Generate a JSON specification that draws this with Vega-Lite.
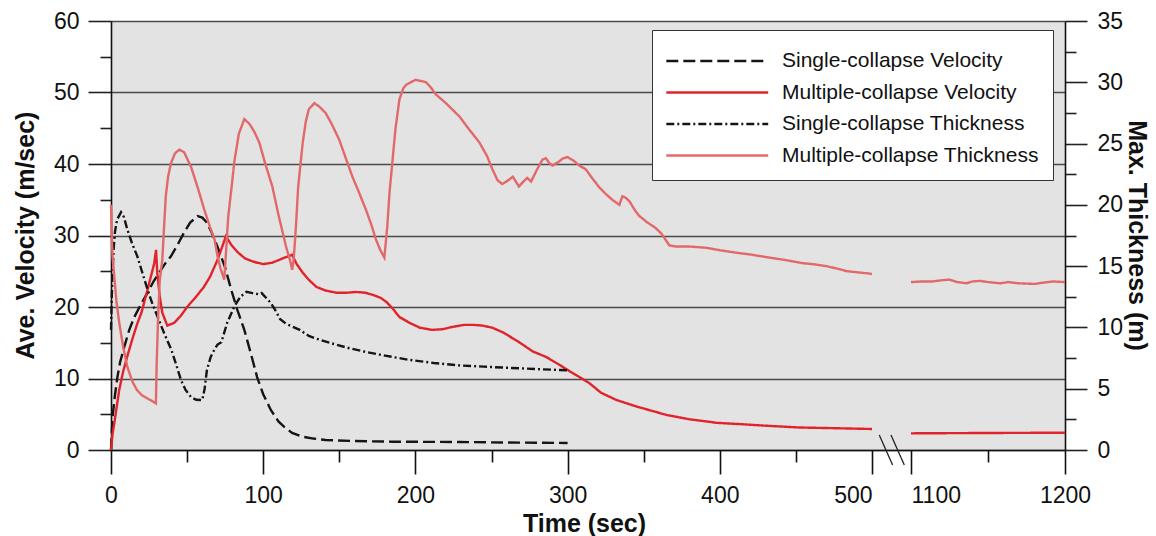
{
  "$schema": "https://vega.github.io/schema/vega-lite/v6.json",
  "width": 954,
  "height": 429,
  "autosize": {"type": "none"},
  "padding": {"left": 111, "top": 21, "right": 91, "bottom": 86},
  "background": "white",
  "config": {
    "view": {"fill": "#e3e3e3", "stroke": null},
    "font": "Liberation Sans"
  },
  "datasets": {
    "vel": [
      {"series": "Single-collapse Velocity", "seg": "a", "t": 0, "v": 0},
      {"series": "Single-collapse Velocity", "seg": "a", "t": 1, "v": 4.6},
      {"series": "Single-collapse Velocity", "seg": "a", "t": 2.5, "v": 7.5},
      {"series": "Single-collapse Velocity", "seg": "a", "t": 4.2, "v": 10.2},
      {"series": "Single-collapse Velocity", "seg": "a", "t": 6, "v": 12.3},
      {"series": "Single-collapse Velocity", "seg": "a", "t": 8.7, "v": 14.4},
      {"series": "Single-collapse Velocity", "seg": "a", "t": 12, "v": 16.8},
      {"series": "Single-collapse Velocity", "seg": "a", "t": 15.3, "v": 18.6},
      {"series": "Single-collapse Velocity", "seg": "a", "t": 20, "v": 20.5},
      {"series": "Single-collapse Velocity", "seg": "a", "t": 24, "v": 22},
      {"series": "Single-collapse Velocity", "seg": "a", "t": 28, "v": 23.6},
      {"series": "Single-collapse Velocity", "seg": "a", "t": 31.7, "v": 24.8},
      {"series": "Single-collapse Velocity", "seg": "a", "t": 36, "v": 26.2},
      {"series": "Single-collapse Velocity", "seg": "a", "t": 39.4, "v": 27.1},
      {"series": "Single-collapse Velocity", "seg": "a", "t": 44, "v": 28.8},
      {"series": "Single-collapse Velocity", "seg": "a", "t": 48, "v": 30.4},
      {"series": "Single-collapse Velocity", "seg": "a", "t": 52, "v": 31.8},
      {"series": "Single-collapse Velocity", "seg": "a", "t": 56.9, "v": 32.7},
      {"series": "Single-collapse Velocity", "seg": "a", "t": 60, "v": 32.5},
      {"series": "Single-collapse Velocity", "seg": "a", "t": 63, "v": 31.8},
      {"series": "Single-collapse Velocity", "seg": "a", "t": 66, "v": 30.5},
      {"series": "Single-collapse Velocity", "seg": "a", "t": 70, "v": 28.4},
      {"series": "Single-collapse Velocity", "seg": "a", "t": 75, "v": 25.5},
      {"series": "Single-collapse Velocity", "seg": "a", "t": 79, "v": 22.4},
      {"series": "Single-collapse Velocity", "seg": "a", "t": 83, "v": 19.6},
      {"series": "Single-collapse Velocity", "seg": "a", "t": 87.6, "v": 16.8},
      {"series": "Single-collapse Velocity", "seg": "a", "t": 92, "v": 13.4},
      {"series": "Single-collapse Velocity", "seg": "a", "t": 96, "v": 10.2},
      {"series": "Single-collapse Velocity", "seg": "a", "t": 100, "v": 7.8},
      {"series": "Single-collapse Velocity", "seg": "a", "t": 105, "v": 5.6},
      {"series": "Single-collapse Velocity", "seg": "a", "t": 110, "v": 4.0},
      {"series": "Single-collapse Velocity", "seg": "a", "t": 114, "v": 3.2},
      {"series": "Single-collapse Velocity", "seg": "a", "t": 119, "v": 2.4},
      {"series": "Single-collapse Velocity", "seg": "a", "t": 125, "v": 1.9},
      {"series": "Single-collapse Velocity", "seg": "a", "t": 133, "v": 1.6},
      {"series": "Single-collapse Velocity", "seg": "a", "t": 141, "v": 1.4},
      {"series": "Single-collapse Velocity", "seg": "a", "t": 160, "v": 1.25},
      {"series": "Single-collapse Velocity", "seg": "a", "t": 185, "v": 1.16},
      {"series": "Single-collapse Velocity", "seg": "a", "t": 229, "v": 1.12},
      {"series": "Single-collapse Velocity", "seg": "a", "t": 260, "v": 1.05},
      {"series": "Single-collapse Velocity", "seg": "a", "t": 300, "v": 0.98},
      {"series": "Multiple-collapse Velocity", "seg": "a", "t": 0, "v": 0},
      {"series": "Multiple-collapse Velocity", "seg": "a", "t": 1, "v": 2.2},
      {"series": "Multiple-collapse Velocity", "seg": "a", "t": 2.2, "v": 3.8},
      {"series": "Multiple-collapse Velocity", "seg": "a", "t": 5.4, "v": 8.4},
      {"series": "Multiple-collapse Velocity", "seg": "a", "t": 8, "v": 11},
      {"series": "Multiple-collapse Velocity", "seg": "a", "t": 10.7, "v": 13.1},
      {"series": "Multiple-collapse Velocity", "seg": "a", "t": 14, "v": 15.5},
      {"series": "Multiple-collapse Velocity", "seg": "a", "t": 17.3, "v": 17.7},
      {"series": "Multiple-collapse Velocity", "seg": "a", "t": 20, "v": 19.2},
      {"series": "Multiple-collapse Velocity", "seg": "a", "t": 24, "v": 22.4},
      {"series": "Multiple-collapse Velocity", "seg": "a", "t": 28.4, "v": 26.1},
      {"series": "Multiple-collapse Velocity", "seg": "a", "t": 29.6, "v": 28.0},
      {"series": "Multiple-collapse Velocity", "seg": "a", "t": 30.4, "v": 24.8},
      {"series": "Multiple-collapse Velocity", "seg": "a", "t": 32, "v": 21.5},
      {"series": "Multiple-collapse Velocity", "seg": "a", "t": 33.7, "v": 19.2},
      {"series": "Multiple-collapse Velocity", "seg": "a", "t": 37, "v": 17.4},
      {"series": "Multiple-collapse Velocity", "seg": "a", "t": 41.6, "v": 17.8},
      {"series": "Multiple-collapse Velocity", "seg": "a", "t": 46, "v": 18.8},
      {"series": "Multiple-collapse Velocity", "seg": "a", "t": 50, "v": 20},
      {"series": "Multiple-collapse Velocity", "seg": "a", "t": 55, "v": 21.2},
      {"series": "Multiple-collapse Velocity", "seg": "a", "t": 61, "v": 22.8},
      {"series": "Multiple-collapse Velocity", "seg": "a", "t": 65, "v": 24.2},
      {"series": "Multiple-collapse Velocity", "seg": "a", "t": 70, "v": 26.6},
      {"series": "Multiple-collapse Velocity", "seg": "a", "t": 73, "v": 28.4},
      {"series": "Multiple-collapse Velocity", "seg": "a", "t": 75.5, "v": 29.9},
      {"series": "Multiple-collapse Velocity", "seg": "a", "t": 79, "v": 28.7},
      {"series": "Multiple-collapse Velocity", "seg": "a", "t": 83, "v": 27.7},
      {"series": "Multiple-collapse Velocity", "seg": "a", "t": 88, "v": 26.8},
      {"series": "Multiple-collapse Velocity", "seg": "a", "t": 94, "v": 26.3},
      {"series": "Multiple-collapse Velocity", "seg": "a", "t": 100, "v": 26.0},
      {"series": "Multiple-collapse Velocity", "seg": "a", "t": 106, "v": 26.2},
      {"series": "Multiple-collapse Velocity", "seg": "a", "t": 110.6, "v": 26.6},
      {"series": "Multiple-collapse Velocity", "seg": "a", "t": 114, "v": 26.9},
      {"series": "Multiple-collapse Velocity", "seg": "a", "t": 119, "v": 27.3},
      {"series": "Multiple-collapse Velocity", "seg": "a", "t": 122, "v": 26.0},
      {"series": "Multiple-collapse Velocity", "seg": "a", "t": 126, "v": 24.8},
      {"series": "Multiple-collapse Velocity", "seg": "a", "t": 130, "v": 23.8},
      {"series": "Multiple-collapse Velocity", "seg": "a", "t": 135, "v": 22.8},
      {"series": "Multiple-collapse Velocity", "seg": "a", "t": 141, "v": 22.3},
      {"series": "Multiple-collapse Velocity", "seg": "a", "t": 148, "v": 22.0},
      {"series": "Multiple-collapse Velocity", "seg": "a", "t": 155, "v": 22.0},
      {"series": "Multiple-collapse Velocity", "seg": "a", "t": 161, "v": 22.1},
      {"series": "Multiple-collapse Velocity", "seg": "a", "t": 167, "v": 22.0},
      {"series": "Multiple-collapse Velocity", "seg": "a", "t": 172, "v": 21.7},
      {"series": "Multiple-collapse Velocity", "seg": "a", "t": 177, "v": 21.3},
      {"series": "Multiple-collapse Velocity", "seg": "a", "t": 181, "v": 20.7},
      {"series": "Multiple-collapse Velocity", "seg": "a", "t": 185, "v": 19.8},
      {"series": "Multiple-collapse Velocity", "seg": "a", "t": 189.5, "v": 18.6},
      {"series": "Multiple-collapse Velocity", "seg": "a", "t": 196, "v": 17.8},
      {"series": "Multiple-collapse Velocity", "seg": "a", "t": 203, "v": 17.1},
      {"series": "Multiple-collapse Velocity", "seg": "a", "t": 211, "v": 16.8},
      {"series": "Multiple-collapse Velocity", "seg": "a", "t": 218, "v": 16.9},
      {"series": "Multiple-collapse Velocity", "seg": "a", "t": 224, "v": 17.2},
      {"series": "Multiple-collapse Velocity", "seg": "a", "t": 232, "v": 17.5},
      {"series": "Multiple-collapse Velocity", "seg": "a", "t": 238, "v": 17.5},
      {"series": "Multiple-collapse Velocity", "seg": "a", "t": 244, "v": 17.4},
      {"series": "Multiple-collapse Velocity", "seg": "a", "t": 250.6, "v": 17.1},
      {"series": "Multiple-collapse Velocity", "seg": "a", "t": 258, "v": 16.4},
      {"series": "Multiple-collapse Velocity", "seg": "a", "t": 268, "v": 15.1},
      {"series": "Multiple-collapse Velocity", "seg": "a", "t": 277, "v": 13.8},
      {"series": "Multiple-collapse Velocity", "seg": "a", "t": 286, "v": 13.0},
      {"series": "Multiple-collapse Velocity", "seg": "a", "t": 294, "v": 12.0},
      {"series": "Multiple-collapse Velocity", "seg": "a", "t": 303, "v": 10.8},
      {"series": "Multiple-collapse Velocity", "seg": "a", "t": 314, "v": 9.4},
      {"series": "Multiple-collapse Velocity", "seg": "a", "t": 322, "v": 8.0},
      {"series": "Multiple-collapse Velocity", "seg": "a", "t": 332, "v": 7.0},
      {"series": "Multiple-collapse Velocity", "seg": "a", "t": 345, "v": 6.1},
      {"series": "Multiple-collapse Velocity", "seg": "a", "t": 355, "v": 5.5},
      {"series": "Multiple-collapse Velocity", "seg": "a", "t": 365, "v": 4.9},
      {"series": "Multiple-collapse Velocity", "seg": "a", "t": 380, "v": 4.3},
      {"series": "Multiple-collapse Velocity", "seg": "a", "t": 398, "v": 3.8},
      {"series": "Multiple-collapse Velocity", "seg": "a", "t": 415, "v": 3.6},
      {"series": "Multiple-collapse Velocity", "seg": "a", "t": 430, "v": 3.4},
      {"series": "Multiple-collapse Velocity", "seg": "a", "t": 452, "v": 3.15},
      {"series": "Multiple-collapse Velocity", "seg": "a", "t": 475, "v": 3.05},
      {"series": "Multiple-collapse Velocity", "seg": "a", "t": 500, "v": 2.94},
      {"series": "Multiple-collapse Velocity", "seg": "b", "t": 1100, "v": 2.33},
      {"series": "Multiple-collapse Velocity", "seg": "b", "t": 1150, "v": 2.38},
      {"series": "Multiple-collapse Velocity", "seg": "b", "t": 1200, "v": 2.42}
    ],
    "thk": [
      {"series": "Single-collapse Thickness", "seg": "a", "t": 0, "v": 9.8},
      {"series": "Single-collapse Thickness", "seg": "a", "t": 0.5, "v": 12.5},
      {"series": "Single-collapse Thickness", "seg": "a", "t": 1, "v": 14.5},
      {"series": "Single-collapse Thickness", "seg": "a", "t": 1.8, "v": 16.5},
      {"series": "Single-collapse Thickness", "seg": "a", "t": 2.6, "v": 17.8},
      {"series": "Single-collapse Thickness", "seg": "a", "t": 4, "v": 18.8},
      {"series": "Single-collapse Thickness", "seg": "a", "t": 6.6, "v": 19.4},
      {"series": "Single-collapse Thickness", "seg": "a", "t": 8.5, "v": 19.0},
      {"series": "Single-collapse Thickness", "seg": "a", "t": 10.7, "v": 18.0},
      {"series": "Single-collapse Thickness", "seg": "a", "t": 14, "v": 16.8},
      {"series": "Single-collapse Thickness", "seg": "a", "t": 17.3, "v": 15.8},
      {"series": "Single-collapse Thickness", "seg": "a", "t": 20.5, "v": 14.5},
      {"series": "Single-collapse Thickness", "seg": "a", "t": 24, "v": 13.1},
      {"series": "Single-collapse Thickness", "seg": "a", "t": 27, "v": 12.0},
      {"series": "Single-collapse Thickness", "seg": "a", "t": 30.5, "v": 10.9},
      {"series": "Single-collapse Thickness", "seg": "a", "t": 35, "v": 9.5},
      {"series": "Single-collapse Thickness", "seg": "a", "t": 39.6, "v": 8.2},
      {"series": "Single-collapse Thickness", "seg": "a", "t": 43, "v": 6.9},
      {"series": "Single-collapse Thickness", "seg": "a", "t": 46, "v": 5.7},
      {"series": "Single-collapse Thickness", "seg": "a", "t": 49, "v": 4.9},
      {"series": "Single-collapse Thickness", "seg": "a", "t": 52.7, "v": 4.3},
      {"series": "Single-collapse Thickness", "seg": "a", "t": 56, "v": 4.1},
      {"series": "Single-collapse Thickness", "seg": "a", "t": 60, "v": 4.08},
      {"series": "Single-collapse Thickness", "seg": "a", "t": 61.5, "v": 5.0},
      {"series": "Single-collapse Thickness", "seg": "a", "t": 63, "v": 6.5},
      {"series": "Single-collapse Thickness", "seg": "a", "t": 65.5, "v": 7.6},
      {"series": "Single-collapse Thickness", "seg": "a", "t": 68, "v": 8.2},
      {"series": "Single-collapse Thickness", "seg": "a", "t": 70, "v": 8.6},
      {"series": "Single-collapse Thickness", "seg": "a", "t": 72.5, "v": 8.8},
      {"series": "Single-collapse Thickness", "seg": "a", "t": 76.4, "v": 10.4},
      {"series": "Single-collapse Thickness", "seg": "a", "t": 81, "v": 11.7},
      {"series": "Single-collapse Thickness", "seg": "a", "t": 85, "v": 12.5},
      {"series": "Single-collapse Thickness", "seg": "a", "t": 89, "v": 12.9},
      {"series": "Single-collapse Thickness", "seg": "a", "t": 93, "v": 12.8},
      {"series": "Single-collapse Thickness", "seg": "a", "t": 97.5, "v": 12.7},
      {"series": "Single-collapse Thickness", "seg": "a", "t": 99, "v": 12.8},
      {"series": "Single-collapse Thickness", "seg": "a", "t": 102, "v": 12.4},
      {"series": "Single-collapse Thickness", "seg": "a", "t": 105, "v": 12.0},
      {"series": "Single-collapse Thickness", "seg": "a", "t": 108, "v": 11.4},
      {"series": "Single-collapse Thickness", "seg": "a", "t": 111, "v": 10.7},
      {"series": "Single-collapse Thickness", "seg": "a", "t": 115, "v": 10.3},
      {"series": "Single-collapse Thickness", "seg": "a", "t": 124, "v": 9.8},
      {"series": "Single-collapse Thickness", "seg": "a", "t": 130, "v": 9.3},
      {"series": "Single-collapse Thickness", "seg": "a", "t": 137, "v": 9.0},
      {"series": "Single-collapse Thickness", "seg": "a", "t": 145, "v": 8.7},
      {"series": "Single-collapse Thickness", "seg": "a", "t": 156.6, "v": 8.3},
      {"series": "Single-collapse Thickness", "seg": "a", "t": 167.6, "v": 8.0},
      {"series": "Single-collapse Thickness", "seg": "a", "t": 180, "v": 7.7},
      {"series": "Single-collapse Thickness", "seg": "a", "t": 196, "v": 7.35},
      {"series": "Single-collapse Thickness", "seg": "a", "t": 212, "v": 7.1},
      {"series": "Single-collapse Thickness", "seg": "a", "t": 229, "v": 6.9},
      {"series": "Single-collapse Thickness", "seg": "a", "t": 245, "v": 6.8},
      {"series": "Single-collapse Thickness", "seg": "a", "t": 262, "v": 6.7},
      {"series": "Single-collapse Thickness", "seg": "a", "t": 280, "v": 6.6},
      {"series": "Single-collapse Thickness", "seg": "a", "t": 300, "v": 6.5},
      {"series": "Multiple-collapse Thickness", "seg": "a", "t": 0, "v": 20.0},
      {"series": "Multiple-collapse Thickness", "seg": "a", "t": 0.5, "v": 17.5},
      {"series": "Multiple-collapse Thickness", "seg": "a", "t": 1, "v": 15.8},
      {"series": "Multiple-collapse Thickness", "seg": "a", "t": 2, "v": 14.4},
      {"series": "Multiple-collapse Thickness", "seg": "a", "t": 3.5, "v": 12.2},
      {"series": "Multiple-collapse Thickness", "seg": "a", "t": 5.4, "v": 10.4},
      {"series": "Multiple-collapse Thickness", "seg": "a", "t": 8, "v": 8.4},
      {"series": "Multiple-collapse Thickness", "seg": "a", "t": 10.7, "v": 6.8},
      {"series": "Multiple-collapse Thickness", "seg": "a", "t": 14, "v": 5.6},
      {"series": "Multiple-collapse Thickness", "seg": "a", "t": 17, "v": 4.9},
      {"series": "Multiple-collapse Thickness", "seg": "a", "t": 20, "v": 4.5},
      {"series": "Multiple-collapse Thickness", "seg": "a", "t": 24, "v": 4.2},
      {"series": "Multiple-collapse Thickness", "seg": "a", "t": 27, "v": 4.0},
      {"series": "Multiple-collapse Thickness", "seg": "a", "t": 29.5, "v": 3.8},
      {"series": "Multiple-collapse Thickness", "seg": "a", "t": 30, "v": 7},
      {"series": "Multiple-collapse Thickness", "seg": "a", "t": 31, "v": 11},
      {"series": "Multiple-collapse Thickness", "seg": "a", "t": 32, "v": 13.8},
      {"series": "Multiple-collapse Thickness", "seg": "a", "t": 33.7, "v": 15.5},
      {"series": "Multiple-collapse Thickness", "seg": "a", "t": 35, "v": 18.5},
      {"series": "Multiple-collapse Thickness", "seg": "a", "t": 36, "v": 20.7},
      {"series": "Multiple-collapse Thickness", "seg": "a", "t": 37.5, "v": 22.3},
      {"series": "Multiple-collapse Thickness", "seg": "a", "t": 39.4, "v": 23.4},
      {"series": "Multiple-collapse Thickness", "seg": "a", "t": 42, "v": 24.2},
      {"series": "Multiple-collapse Thickness", "seg": "a", "t": 44.9, "v": 24.5},
      {"series": "Multiple-collapse Thickness", "seg": "a", "t": 48, "v": 24.3},
      {"series": "Multiple-collapse Thickness", "seg": "a", "t": 52.6, "v": 23.1},
      {"series": "Multiple-collapse Thickness", "seg": "a", "t": 57, "v": 21.4},
      {"series": "Multiple-collapse Thickness", "seg": "a", "t": 61.3, "v": 19.6},
      {"series": "Multiple-collapse Thickness", "seg": "a", "t": 65, "v": 18.2},
      {"series": "Multiple-collapse Thickness", "seg": "a", "t": 68, "v": 17.2},
      {"series": "Multiple-collapse Thickness", "seg": "a", "t": 70, "v": 15.8},
      {"series": "Multiple-collapse Thickness", "seg": "a", "t": 72, "v": 14.8},
      {"series": "Multiple-collapse Thickness", "seg": "a", "t": 74.4, "v": 13.9},
      {"series": "Multiple-collapse Thickness", "seg": "a", "t": 75.5, "v": 16},
      {"series": "Multiple-collapse Thickness", "seg": "a", "t": 77, "v": 19},
      {"series": "Multiple-collapse Thickness", "seg": "a", "t": 79, "v": 21.2},
      {"series": "Multiple-collapse Thickness", "seg": "a", "t": 81, "v": 23.5},
      {"series": "Multiple-collapse Thickness", "seg": "a", "t": 84, "v": 25.8},
      {"series": "Multiple-collapse Thickness", "seg": "a", "t": 87.6, "v": 27.0},
      {"series": "Multiple-collapse Thickness", "seg": "a", "t": 91, "v": 26.6},
      {"series": "Multiple-collapse Thickness", "seg": "a", "t": 94, "v": 26.0},
      {"series": "Multiple-collapse Thickness", "seg": "a", "t": 97.4, "v": 25.1},
      {"series": "Multiple-collapse Thickness", "seg": "a", "t": 101, "v": 23.5},
      {"series": "Multiple-collapse Thickness", "seg": "a", "t": 106, "v": 21.5},
      {"series": "Multiple-collapse Thickness", "seg": "a", "t": 110, "v": 19.2},
      {"series": "Multiple-collapse Thickness", "seg": "a", "t": 115, "v": 16.6},
      {"series": "Multiple-collapse Thickness", "seg": "a", "t": 118, "v": 15.3},
      {"series": "Multiple-collapse Thickness", "seg": "a", "t": 119, "v": 14.7},
      {"series": "Multiple-collapse Thickness", "seg": "a", "t": 120, "v": 15.5},
      {"series": "Multiple-collapse Thickness", "seg": "a", "t": 121.5, "v": 18.2},
      {"series": "Multiple-collapse Thickness", "seg": "a", "t": 123, "v": 21.5},
      {"series": "Multiple-collapse Thickness", "seg": "a", "t": 126, "v": 25.1},
      {"series": "Multiple-collapse Thickness", "seg": "a", "t": 128, "v": 26.8},
      {"series": "Multiple-collapse Thickness", "seg": "a", "t": 130, "v": 27.8},
      {"series": "Multiple-collapse Thickness", "seg": "a", "t": 133.6, "v": 28.3},
      {"series": "Multiple-collapse Thickness", "seg": "a", "t": 137, "v": 28.0},
      {"series": "Multiple-collapse Thickness", "seg": "a", "t": 141, "v": 27.5},
      {"series": "Multiple-collapse Thickness", "seg": "a", "t": 145, "v": 26.6},
      {"series": "Multiple-collapse Thickness", "seg": "a", "t": 150, "v": 25.3},
      {"series": "Multiple-collapse Thickness", "seg": "a", "t": 154, "v": 23.9},
      {"series": "Multiple-collapse Thickness", "seg": "a", "t": 158.6, "v": 22.3},
      {"series": "Multiple-collapse Thickness", "seg": "a", "t": 163, "v": 21.0},
      {"series": "Multiple-collapse Thickness", "seg": "a", "t": 167.5, "v": 19.6},
      {"series": "Multiple-collapse Thickness", "seg": "a", "t": 171, "v": 18.4},
      {"series": "Multiple-collapse Thickness", "seg": "a", "t": 174, "v": 17.2},
      {"series": "Multiple-collapse Thickness", "seg": "a", "t": 177, "v": 16.3},
      {"series": "Multiple-collapse Thickness", "seg": "a", "t": 179.6, "v": 15.7},
      {"series": "Multiple-collapse Thickness", "seg": "a", "t": 181.5, "v": 18.2},
      {"series": "Multiple-collapse Thickness", "seg": "a", "t": 183, "v": 21},
      {"series": "Multiple-collapse Thickness", "seg": "a", "t": 185, "v": 23.7},
      {"series": "Multiple-collapse Thickness", "seg": "a", "t": 187, "v": 26.3},
      {"series": "Multiple-collapse Thickness", "seg": "a", "t": 189.5, "v": 28.6},
      {"series": "Multiple-collapse Thickness", "seg": "a", "t": 192, "v": 29.5},
      {"series": "Multiple-collapse Thickness", "seg": "a", "t": 194, "v": 29.8},
      {"series": "Multiple-collapse Thickness", "seg": "a", "t": 200, "v": 30.2},
      {"series": "Multiple-collapse Thickness", "seg": "a", "t": 204, "v": 30.1},
      {"series": "Multiple-collapse Thickness", "seg": "a", "t": 207, "v": 30.0},
      {"series": "Multiple-collapse Thickness", "seg": "a", "t": 210, "v": 29.6},
      {"series": "Multiple-collapse Thickness", "seg": "a", "t": 213.5, "v": 29.0},
      {"series": "Multiple-collapse Thickness", "seg": "a", "t": 220, "v": 28.3},
      {"series": "Multiple-collapse Thickness", "seg": "a", "t": 229, "v": 27.2},
      {"series": "Multiple-collapse Thickness", "seg": "a", "t": 235, "v": 26.2},
      {"series": "Multiple-collapse Thickness", "seg": "a", "t": 242, "v": 25.1},
      {"series": "Multiple-collapse Thickness", "seg": "a", "t": 247, "v": 24.0},
      {"series": "Multiple-collapse Thickness", "seg": "a", "t": 250.6, "v": 22.9},
      {"series": "Multiple-collapse Thickness", "seg": "a", "t": 254, "v": 22.0},
      {"series": "Multiple-collapse Thickness", "seg": "a", "t": 257, "v": 21.7},
      {"series": "Multiple-collapse Thickness", "seg": "a", "t": 261, "v": 22.0},
      {"series": "Multiple-collapse Thickness", "seg": "a", "t": 264, "v": 22.3},
      {"series": "Multiple-collapse Thickness", "seg": "a", "t": 266, "v": 21.9},
      {"series": "Multiple-collapse Thickness", "seg": "a", "t": 268, "v": 21.5},
      {"series": "Multiple-collapse Thickness", "seg": "a", "t": 271, "v": 21.9},
      {"series": "Multiple-collapse Thickness", "seg": "a", "t": 273.5, "v": 22.2},
      {"series": "Multiple-collapse Thickness", "seg": "a", "t": 276, "v": 21.9},
      {"series": "Multiple-collapse Thickness", "seg": "a", "t": 280, "v": 22.9},
      {"series": "Multiple-collapse Thickness", "seg": "a", "t": 283.5, "v": 23.7},
      {"series": "Multiple-collapse Thickness", "seg": "a", "t": 285.8, "v": 23.8},
      {"series": "Multiple-collapse Thickness", "seg": "a", "t": 288, "v": 23.4},
      {"series": "Multiple-collapse Thickness", "seg": "a", "t": 290, "v": 23.2},
      {"series": "Multiple-collapse Thickness", "seg": "a", "t": 294, "v": 23.5},
      {"series": "Multiple-collapse Thickness", "seg": "a", "t": 297, "v": 23.8},
      {"series": "Multiple-collapse Thickness", "seg": "a", "t": 300, "v": 23.9},
      {"series": "Multiple-collapse Thickness", "seg": "a", "t": 304, "v": 23.6},
      {"series": "Multiple-collapse Thickness", "seg": "a", "t": 307.7, "v": 23.2},
      {"series": "Multiple-collapse Thickness", "seg": "a", "t": 312, "v": 22.9},
      {"series": "Multiple-collapse Thickness", "seg": "a", "t": 316, "v": 22.2},
      {"series": "Multiple-collapse Thickness", "seg": "a", "t": 321, "v": 21.4},
      {"series": "Multiple-collapse Thickness", "seg": "a", "t": 325, "v": 20.9},
      {"series": "Multiple-collapse Thickness", "seg": "a", "t": 329.5, "v": 20.4},
      {"series": "Multiple-collapse Thickness", "seg": "a", "t": 334, "v": 20.0},
      {"series": "Multiple-collapse Thickness", "seg": "a", "t": 336, "v": 20.7},
      {"series": "Multiple-collapse Thickness", "seg": "a", "t": 338, "v": 20.6},
      {"series": "Multiple-collapse Thickness", "seg": "a", "t": 340.6, "v": 20.3},
      {"series": "Multiple-collapse Thickness", "seg": "a", "t": 344, "v": 19.6},
      {"series": "Multiple-collapse Thickness", "seg": "a", "t": 347, "v": 19.1},
      {"series": "Multiple-collapse Thickness", "seg": "a", "t": 352, "v": 18.6},
      {"series": "Multiple-collapse Thickness", "seg": "a", "t": 358, "v": 18.1},
      {"series": "Multiple-collapse Thickness", "seg": "a", "t": 362, "v": 17.6},
      {"series": "Multiple-collapse Thickness", "seg": "a", "t": 366.8, "v": 16.7},
      {"series": "Multiple-collapse Thickness", "seg": "a", "t": 371, "v": 16.6},
      {"series": "Multiple-collapse Thickness", "seg": "a", "t": 380, "v": 16.6},
      {"series": "Multiple-collapse Thickness", "seg": "a", "t": 391, "v": 16.5},
      {"series": "Multiple-collapse Thickness", "seg": "a", "t": 400, "v": 16.3},
      {"series": "Multiple-collapse Thickness", "seg": "a", "t": 410.6, "v": 16.1},
      {"series": "Multiple-collapse Thickness", "seg": "a", "t": 420, "v": 15.95},
      {"series": "Multiple-collapse Thickness", "seg": "a", "t": 432.5, "v": 15.7},
      {"series": "Multiple-collapse Thickness", "seg": "a", "t": 443, "v": 15.5},
      {"series": "Multiple-collapse Thickness", "seg": "a", "t": 454, "v": 15.25},
      {"series": "Multiple-collapse Thickness", "seg": "a", "t": 462, "v": 15.15},
      {"series": "Multiple-collapse Thickness", "seg": "a", "t": 470, "v": 15.0},
      {"series": "Multiple-collapse Thickness", "seg": "a", "t": 477, "v": 14.8},
      {"series": "Multiple-collapse Thickness", "seg": "a", "t": 483, "v": 14.6},
      {"series": "Multiple-collapse Thickness", "seg": "a", "t": 490, "v": 14.5},
      {"series": "Multiple-collapse Thickness", "seg": "a", "t": 498, "v": 14.4},
      {"series": "Multiple-collapse Thickness", "seg": "a", "t": 500, "v": 14.35},
      {"series": "Multiple-collapse Thickness", "seg": "b", "t": 1100, "v": 13.7},
      {"series": "Multiple-collapse Thickness", "seg": "b", "t": 1107, "v": 13.75},
      {"series": "Multiple-collapse Thickness", "seg": "b", "t": 1114, "v": 13.75},
      {"series": "Multiple-collapse Thickness", "seg": "b", "t": 1120, "v": 13.85},
      {"series": "Multiple-collapse Thickness", "seg": "b", "t": 1125, "v": 13.9},
      {"series": "Multiple-collapse Thickness", "seg": "b", "t": 1130, "v": 13.7},
      {"series": "Multiple-collapse Thickness", "seg": "b", "t": 1136, "v": 13.6},
      {"series": "Multiple-collapse Thickness", "seg": "b", "t": 1140, "v": 13.75},
      {"series": "Multiple-collapse Thickness", "seg": "b", "t": 1144.6, "v": 13.8},
      {"series": "Multiple-collapse Thickness", "seg": "b", "t": 1150, "v": 13.7},
      {"series": "Multiple-collapse Thickness", "seg": "b", "t": 1158, "v": 13.6},
      {"series": "Multiple-collapse Thickness", "seg": "b", "t": 1163, "v": 13.7},
      {"series": "Multiple-collapse Thickness", "seg": "b", "t": 1170, "v": 13.6},
      {"series": "Multiple-collapse Thickness", "seg": "b", "t": 1180, "v": 13.55},
      {"series": "Multiple-collapse Thickness", "seg": "b", "t": 1186, "v": 13.65},
      {"series": "Multiple-collapse Thickness", "seg": "b", "t": 1192, "v": 13.75},
      {"series": "Multiple-collapse Thickness", "seg": "b", "t": 1200, "v": 13.7}
    ],
    "marks": [
      {"t": 612, "t2": 817, "v": 2.1, "v2": -2.1},
      {"t": 792, "t2": 997, "v": 2.1, "v2": -2.1}
    ]
  },
  "layer": [
    {
      "data": {"name": "vel"},
      "mark": {"type": "line", "strokeCap": "butt"},
      "encoding": {
        "x": {
          "field": "t", "type": "quantitative",
          "scale": {"domain": [0, 500, 1100, 1200], "range": [0, 761, 800, 954], "nice": false, "zero": false},
          "axis": {
            "orient": "bottom",
            "values": [0, 50, 100, 150, 200, 250, 300, 350, 400, 450, 500, 1100, 1150, 1200],
            "format": "d",
            "labelExpr": "datum.value % 100 === 0 ? datum.label : ''",
            "labelAlign": {"condition": [{"test": "datum.value === 500", "value": "right"}, {"test": "datum.value === 1100", "value": "left"}], "value": "center"},
            "tickSize": {"condition": {"test": "datum.value % 100 === 0", "value": 24}, "value": 12},
            "labelOverlap": false, "labelBound": false, "labelFlush": false,
            "grid": false,
            "domainColor": "#111", "domainWidth": 1.6,
            "tickColor": "#111", "tickWidth": 1.6,
            "labelFontSize": 23, "labelColor": "#111", "labelPadding": 10,
            "title": "Time (sec)", "titleFontSize": 25, "titleFontWeight": "bold", "titleColor": "#111",
            "titleX": 473, "titleY": 81, "titleBaseline": "alphabetic", "titleAlign": "center"
          }
        },
        "y": {
          "field": "v", "type": "quantitative",
          "scale": {"domain": [0, 60], "nice": false},
          "axis": {
            "orient": "left",
            "values": [0, 5, 10, 15, 20, 25, 30, 35, 40, 45, 50, 55, 60],
            "labelExpr": "datum.value % 10 === 0 ? datum.label : ''",
            "tickSize": {"condition": {"test": "datum.value % 10 === 0", "value": 23}, "value": 11},
            "grid": true, "gridColor": "#4a4a4a", "gridWidth": 1.6,
            "gridOpacity": {"condition": {"test": "datum.value % 10 === 0", "value": 1}, "value": 0},
            "labelOverlap": false, "labelBound": false, "labelFlush": false,
            "domainColor": "#111", "domainWidth": 1.6,
            "tickColor": "#222", "tickWidth": 1.6,
            "labelFontSize": 23, "labelColor": "#111", "labelPadding": 9,
            "title": "Ave. Velocity (m/sec)", "titleFontSize": 25, "titleFontWeight": "bold", "titleColor": "#111",
            "titleAngle": -90, "titleX": -78, "titleY": 214, "titleBaseline": "alphabetic", "titleAlign": "center"
          }
        },
        "detail": {"field": "seg"},
        "color": {
          "field": "series", "type": "nominal",
          "scale": {
            "domain": ["Single-collapse Velocity", "Multiple-collapse Velocity", "Single-collapse Thickness", "Multiple-collapse Thickness"],
            "range": ["#151515", "#e1232b", "#151515", "#e3686a"]
          },
          "legend": {
            "orient": "none", "legendX": 541, "legendY": 9,
            "title": null,
            "fillColor": "white", "strokeColor": "#333",
            "padding": 14, "rowPadding": 4.5,
            "labelFontSize": 21, "labelColor": "#111", "labelLimit": 0,
            "symbolType": "M-1.06,0H5.41", "symbolSize": 992, "labelOffset": 82
          }
        },
        "strokeDash": {
          "field": "series", "type": "nominal",
          "scale": {
            "domain": ["Single-collapse Velocity", "Multiple-collapse Velocity", "Single-collapse Thickness", "Multiple-collapse Thickness"],
            "range": [[12, 5], [1, 0], [8, 3, 2, 3], [1, 0]]
          }
        },
        "strokeWidth": {
          "field": "series", "type": "nominal",
          "scale": {
            "domain": ["Single-collapse Velocity", "Multiple-collapse Velocity", "Single-collapse Thickness", "Multiple-collapse Thickness"],
            "range": [2.4, 2.4, 1.8, 1.2]
          }
        }
      }
    },
    {
      "data": {"name": "marks"},
      "mark": {"type": "rule", "color": "#222", "strokeWidth": 1.3},
      "encoding": {
        "x": {"field": "t", "type": "quantitative", "scale": {"domain": [0, 500, 1100, 1200], "range": [0, 761, 800, 954], "nice": false, "zero": false}},
        "x2": {"field": "t2"},
        "y": {"field": "v", "type": "quantitative", "scale": {"domain": [0, 60], "nice": false}, "axis": null},
        "y2": {"field": "v2"}
      }
    },
    {
      "data": {"name": "thk"},
      "mark": {"type": "line", "strokeCap": "butt"},
      "encoding": {
        "x": {"field": "t", "type": "quantitative", "scale": {"domain": [0, 500, 1100, 1200], "range": [0, 761, 800, 954], "nice": false, "zero": false}},
        "y": {
          "field": "v", "type": "quantitative",
          "scale": {"domain": [0, 35], "nice": false},
          "axis": {
            "orient": "right",
            "values": [0, 2.5, 5, 7.5, 10, 12.5, 15, 17.5, 20, 22.5, 25, 27.5, 30, 32.5, 35],
            "format": "d",
            "labelExpr": "datum.value % 5 === 0 ? datum.label : ''",
            "tickSize": {"condition": {"test": "datum.value % 5 === 0", "value": 22}, "value": 11},
            "grid": false,
            "labelOverlap": false, "labelBound": false, "labelFlush": false,
            "domainColor": "#111", "domainWidth": 1.6,
            "tickColor": "#222", "tickWidth": 1.6,
            "labelFontSize": 23, "labelColor": "#111", "labelPadding": 10,
            "title": "Max. Thickness (m)", "titleFontSize": 25, "titleFontWeight": "bold", "titleColor": "#111",
            "titleAngle": 90, "titleX": 63, "titleY": 214, "titleBaseline": "alphabetic", "titleAlign": "center"
          }
        },
        "detail": {"field": "seg"},
        "color": {
          "field": "series", "type": "nominal",
          "scale": {
            "domain": ["Single-collapse Velocity", "Multiple-collapse Velocity", "Single-collapse Thickness", "Multiple-collapse Thickness"],
            "range": ["#151515", "#e1232b", "#151515", "#e3686a"]
          }
        },
        "strokeDash": {
          "field": "series", "type": "nominal",
          "scale": {
            "domain": ["Single-collapse Velocity", "Multiple-collapse Velocity", "Single-collapse Thickness", "Multiple-collapse Thickness"],
            "range": [[12, 5], [1, 0], [8, 3, 2, 3], [1, 0]]
          }
        },
        "strokeWidth": {
          "field": "series", "type": "nominal",
          "scale": {
            "domain": ["Single-collapse Velocity", "Multiple-collapse Velocity", "Single-collapse Thickness", "Multiple-collapse Thickness"],
            "range": [2.4, 2.4, 1.8, 1.2]
          }
        }
      }
    }
  ],
  "resolve": {"scale": {"y": "independent"}}
}
